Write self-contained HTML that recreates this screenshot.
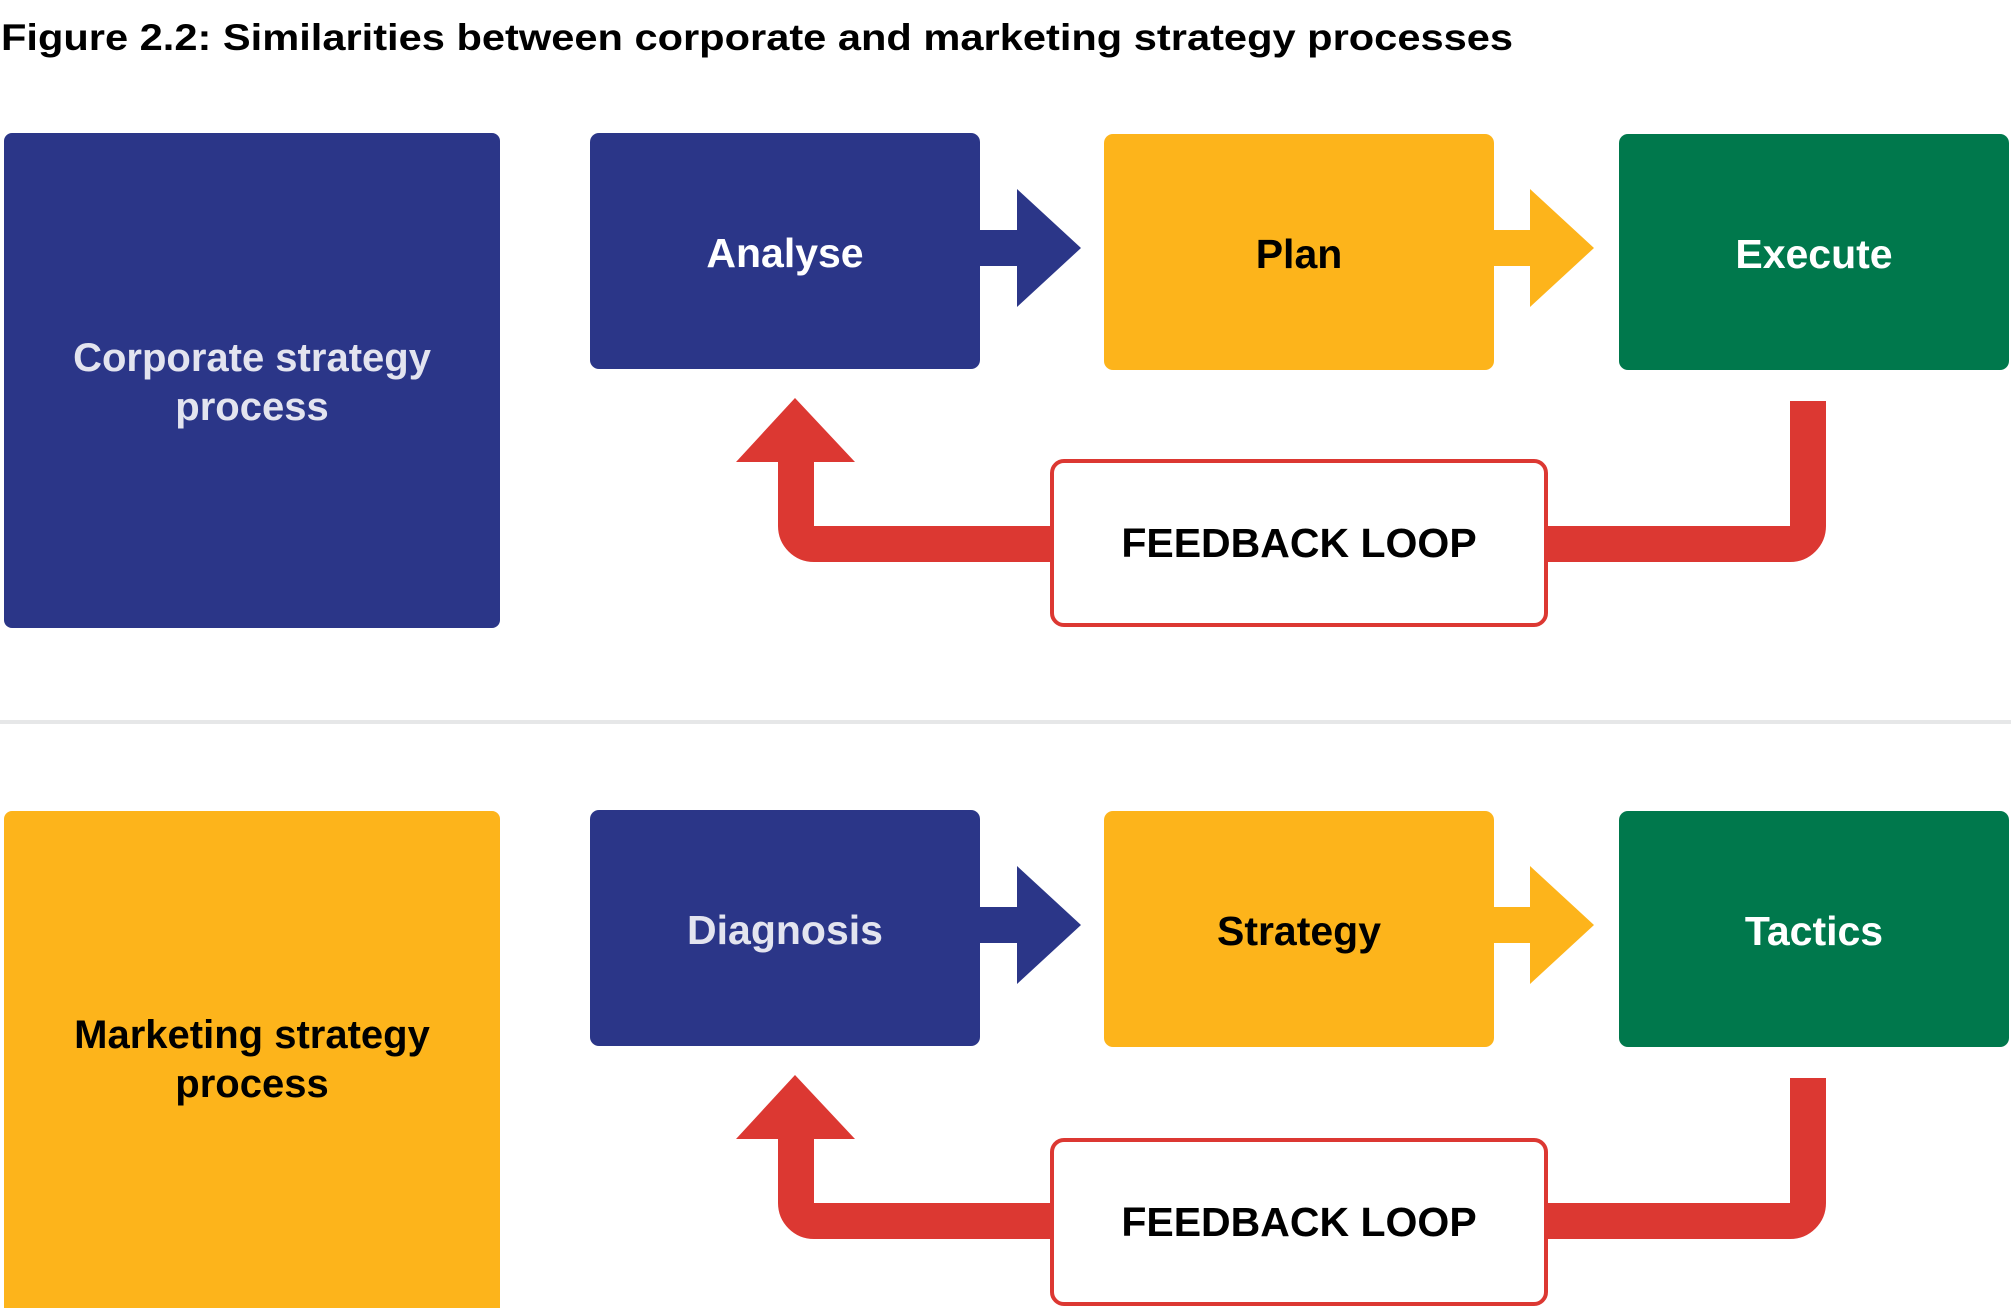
<!DOCTYPE html>
<html><head><meta charset="utf-8"><style>
html,body{margin:0;padding:0;background:#fff;}
svg{display:block;}
text{font-family:"Liberation Sans",Arial,sans-serif;font-weight:bold;}
</style></head><body>
<svg width="2011" height="1308" viewBox="0 0 2011 1308" xmlns="http://www.w3.org/2000/svg">
<text x="1" y="50" font-size="37" fill="#000" textLength="1512" lengthAdjust="spacingAndGlyphs">Figure 2.2: Similarities between corporate and marketing strategy processes</text>
<rect x="0" y="720" width="2011" height="4" fill="#E6E7E8"/>
<g id="top">
<rect x="4" y="133" width="496" height="495" rx="8" fill="#2B3688"/>
<text x="252" y="371" font-size="40" fill="#E3E4EF" text-anchor="middle">Corporate strategy</text>
<text x="252" y="420" font-size="40" fill="#E3E4EF" text-anchor="middle">process</text>
<rect x="590" y="133" width="390" height="236" rx="9" fill="#2B3688"/>
<polygon points="978,230 1017,230 1017,189 1081,248 1017,307 1017,266 978,266" fill="#2B3688"/>
<text x="785" y="267" font-size="41" fill="#fff" text-anchor="middle">Analyse</text>
<rect x="1104" y="134" width="390" height="236" rx="9" fill="#FDB41B"/>
<polygon points="1492,230 1530,230 1530,189 1594,248 1530,307 1530,266 1492,266" fill="#FDB41B"/>
<text x="1299" y="268" font-size="41" fill="#000" text-anchor="middle">Plan</text>
<rect x="1619" y="134" width="390" height="236" rx="9" fill="#00784C"/>
<text x="1814" y="268" font-size="41" fill="#fff" text-anchor="middle">Execute</text>
<path d="M1548 544 H1790 A18 18 0 0 0 1808 526 V401" fill="none" stroke="#DC3832" stroke-width="36"/>
<path d="M1050 544 H814 A18 18 0 0 1 796 526 V460" fill="none" stroke="#DC3832" stroke-width="36"/>
<polygon points="736,462 855,462 795,398" fill="#DC3832"/>
<rect x="1052" y="461" width="494" height="164" rx="12" fill="#fff" stroke="#DC3832" stroke-width="4"/>
<text x="1299" y="557" font-size="41" fill="#000" text-anchor="middle">FEEDBACK LOOP</text>
</g>
<g transform="translate(0,677)">
<rect x="4" y="134" width="496" height="520" rx="8" fill="#FDB41B"/>
<text x="252" y="371" font-size="40" fill="#000" text-anchor="middle">Marketing strategy</text>
<text x="252" y="420" font-size="40" fill="#000" text-anchor="middle">process</text>
<rect x="590" y="133" width="390" height="236" rx="9" fill="#2B3688"/>
<polygon points="978,230 1017,230 1017,189 1081,248 1017,307 1017,266 978,266" fill="#2B3688"/>
<text x="785" y="267" font-size="41" fill="#E3E4EF" text-anchor="middle">Diagnosis</text>
<rect x="1104" y="134" width="390" height="236" rx="9" fill="#FDB41B"/>
<polygon points="1492,230 1530,230 1530,189 1594,248 1530,307 1530,266 1492,266" fill="#FDB41B"/>
<text x="1299" y="268" font-size="41" fill="#000" text-anchor="middle">Strategy</text>
<rect x="1619" y="134" width="390" height="236" rx="9" fill="#00784C"/>
<text x="1814" y="268" font-size="41" fill="#fff" text-anchor="middle">Tactics</text>
<path d="M1548 544 H1790 A18 18 0 0 0 1808 526 V401" fill="none" stroke="#DC3832" stroke-width="36"/>
<path d="M1050 544 H814 A18 18 0 0 1 796 526 V460" fill="none" stroke="#DC3832" stroke-width="36"/>
<polygon points="736,462 855,462 795,398" fill="#DC3832"/>
<rect x="1052" y="463" width="494" height="164" rx="12" fill="#fff" stroke="#DC3832" stroke-width="4"/>
<text x="1299" y="559" font-size="41" fill="#000" text-anchor="middle">FEEDBACK LOOP</text>
</g>
</svg>
</body></html>
